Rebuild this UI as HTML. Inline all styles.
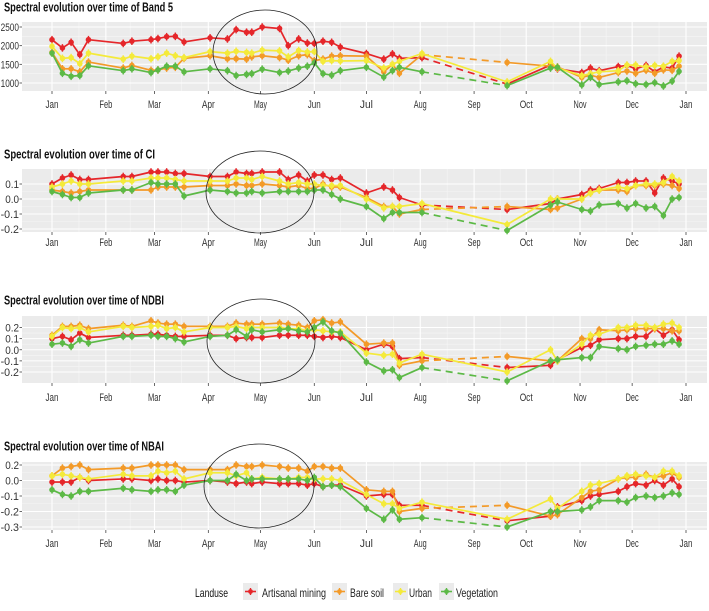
<!DOCTYPE html>
<html><head><meta charset="utf-8"><style>
body{margin:0;background:#fff;}
svg text{font-family:"Liberation Sans",sans-serif;}
</style></head><body>
<svg id="chart" width="709" height="606" viewBox="0 0 709 606" xmlns="http://www.w3.org/2000/svg"></svg>
<script>
const days = [0,6,11,16,21,41,46,57,61,66,71,76,91,101,106,112,115,121,131,136,142,147,151,156,161,166,181,191,196,200,213,262,287,291,305,310,315,326,331,336,342,347,352,357,361];
const monthLabels = ["Jan","Feb","Mar","Apr","May","Jun","Jul","Aug","Sep","Oct","Nov","Dec","Jan"];
const monthDays = [0,31,59,90,120,151,181,212,243,273,304,334,365];
const seriesNames = ["Artisanal mining","Bare soil","Urban","Vegetation"];
const seriesColors = ["#e5262a","#f39a28","#f4ea3a","#5cb946"];

const band5Red = [2160,1940,2090,1760,2160,2060,2120,2160,2190,2240,2250,2100,2210,2180,2430,2360,2360,2500,2460,2000,2180,2070,2060,2120,2090,1960,1790,1640,1780,1660,1680,970,1480,1380,1280,1400,1330,1440,1470,1380,1470,1300,1430,1400,1720];
const band5Orange = [1820,1380,1380,1300,1560,1400,1470,1340,1350,1400,1420,1660,1730,1650,1650,1640,1700,1730,1680,1610,1730,1760,1600,1640,1720,1730,1720,1300,1500,1260,1760,1550,1450,1430,1150,1210,1150,1280,1320,1260,1340,1260,1350,1340,1450];
const band5Yellow = [1980,1660,1680,1520,1800,1640,1720,1650,1700,1800,1730,1680,1840,1800,1850,1820,1800,1880,1860,1700,1870,1830,1840,1580,1600,1590,1600,1400,1500,1580,1790,1030,1580,1400,1200,1250,1300,1330,1480,1480,1430,1470,1450,1580,1600];
const band5Green = [1800,1260,1180,1200,1460,1330,1380,1280,1350,1450,1450,1300,1380,1330,1200,1230,1250,1370,1280,1320,1400,1450,1540,1250,1210,1330,1420,1160,1330,1420,1300,930,1400,1420,950,1150,960,1030,1060,980,960,1010,920,1050,1310];

const ciRed = [0.10,0.14,0.16,0.13,0.13,0.15,0.15,0.18,0.18,0.18,0.17,0.17,0.15,0.15,0.18,0.17,0.17,0.18,0.18,0.13,0.16,0.12,0.16,0.16,0.13,0.14,0.04,0.08,0.06,0.01,-0.04,-0.07,-0.03,0.0,0.03,0.06,0.07,0.11,0.11,0.12,0.12,0.04,0.14,0.12,0.10];
const ciOrange = [0.06,0.05,0.04,0.05,0.06,0.06,0.06,0.06,0.08,0.08,0.08,0.08,0.09,0.09,0.10,0.09,0.09,0.10,0.09,0.08,0.09,0.07,0.07,0.10,0.08,0.08,0.01,-0.05,-0.05,-0.10,-0.07,-0.05,-0.07,-0.06,0.0,0.04,0.06,0.06,0.05,0.09,0.09,0.09,0.10,0.09,0.07];
const ciYellow = [0.08,0.10,0.12,0.10,0.10,0.12,0.12,0.14,0.14,0.14,0.13,0.12,0.12,0.12,0.14,0.14,0.13,0.15,0.12,0.10,0.11,0.10,0.10,0.09,0.09,0.09,0.0,-0.06,-0.05,-0.05,-0.03,-0.17,0.0,0.0,0.0,0.04,0.06,0.08,0.07,0.09,0.10,0.10,0.11,0.15,0.12];
const ciGreen = [0.05,0.03,0.01,0.01,0.04,0.06,0.06,0.11,0.10,0.10,0.10,0.02,0.06,0.05,0.04,0.04,0.05,0.04,0.05,0.05,0.05,0.05,0.06,0.06,0.03,0.0,-0.05,-0.13,-0.09,-0.09,-0.09,-0.21,-0.04,-0.02,-0.07,-0.08,-0.04,-0.03,-0.06,-0.03,-0.06,-0.05,-0.11,0.0,0.01];

const ndbiRed = [0.10,0.12,0.09,0.15,0.11,0.13,0.13,0.14,0.14,0.13,0.12,0.12,0.13,0.13,0.10,0.11,0.11,0.11,0.13,0.13,0.13,0.13,0.12,0.11,0.12,0.11,0.0,0.05,0.03,-0.08,-0.07,-0.16,-0.14,-0.09,0.02,0.04,0.09,0.10,0.10,0.12,0.12,0.19,0.13,0.18,0.09];
const ndbiOrange = [0.13,0.21,0.21,0.22,0.19,0.22,0.21,0.26,0.24,0.23,0.23,0.21,0.21,0.21,0.24,0.23,0.23,0.23,0.24,0.23,0.22,0.20,0.26,0.27,0.24,0.25,0.05,0.06,0.06,-0.14,-0.10,-0.06,-0.10,-0.10,0.10,0.10,0.18,0.17,0.18,0.19,0.19,0.19,0.19,0.17,0.17];
const ndbiYellow = [0.12,0.20,0.19,0.20,0.16,0.21,0.20,0.21,0.22,0.19,0.20,0.16,0.20,0.20,0.21,0.19,0.20,0.20,0.20,0.19,0.19,0.17,0.18,0.17,0.16,0.16,-0.03,-0.05,-0.04,-0.12,-0.04,-0.20,0.0,-0.10,0.05,0.13,0.14,0.20,0.20,0.22,0.22,0.20,0.23,0.24,0.20];
const ndbiGreen = [0.05,0.06,0.03,0.09,0.06,0.12,0.12,0.13,0.12,0.12,0.10,0.07,0.12,0.13,0.18,0.12,0.18,0.16,0.18,0.19,0.17,0.16,0.20,0.25,0.17,0.15,-0.11,-0.19,-0.18,-0.25,-0.16,-0.28,-0.10,-0.09,-0.07,-0.07,0.03,0.01,0.0,0.03,0.04,0.05,0.05,0.08,0.05];

const nbaiRed = [-0.01,-0.01,-0.01,0.02,0.0,0.01,0.01,0.0,0.01,0.0,0.0,-0.01,0.0,-0.01,-0.02,-0.01,-0.02,-0.01,-0.02,-0.02,-0.02,-0.03,-0.02,-0.04,-0.03,-0.03,-0.10,-0.09,-0.09,-0.16,-0.16,-0.26,-0.23,-0.17,-0.13,-0.10,-0.09,-0.07,-0.04,-0.02,-0.03,0.0,-0.03,0.01,-0.04];
const nbaiOrange = [0.03,0.08,0.09,0.10,0.07,0.08,0.08,0.10,0.10,0.10,0.10,0.07,0.07,0.07,0.10,0.09,0.09,0.10,0.09,0.08,0.08,0.06,0.09,0.09,0.08,0.08,-0.06,-0.07,-0.07,-0.20,-0.18,-0.16,-0.23,-0.22,-0.11,-0.07,-0.06,0.01,0.02,0.02,0.04,0.02,0.03,0.05,0.02];
const nbaiYellow = [0.03,0.04,0.03,0.02,0.01,0.04,0.03,0.03,0.06,0.05,0.06,0.01,0.05,0.05,0.03,0.05,0.01,0.02,0.01,0.01,0.02,0.02,0.01,0.01,0.01,0.0,-0.09,-0.15,-0.15,-0.18,-0.14,-0.25,-0.12,-0.18,-0.07,-0.03,-0.02,0.01,0.03,0.04,0.03,0.02,0.06,0.06,0.03];
const nbaiGreen = [-0.06,-0.09,-0.10,-0.07,-0.07,-0.05,-0.06,-0.07,-0.06,-0.06,-0.07,-0.03,0.0,0.0,0.04,0.0,0.01,0.01,0.01,0.01,0.01,0.0,0.02,-0.04,-0.03,-0.04,-0.18,-0.25,-0.19,-0.25,-0.24,-0.30,-0.20,-0.20,-0.19,-0.17,-0.13,-0.13,-0.14,-0.11,-0.10,-0.11,-0.10,-0.08,-0.09];

const band5Ticks = [2500,2000,1500,1000];
const band5TickLabels = ["2500","2000","1500","1000"];
const ciTicks = [0.1,0.0,-0.1,-0.2];
const ciTickLabels = ["0.1","0.0","-0.1","-0.2"];
const ndbiTicks = [0.2,0.1,0.0,-0.1,-0.2];
const ndbiTickLabels = ["0.2","0.1","0.0","-0.1","-0.2"];
const nbaiTicks = [0.1,0.0,-0.1,-0.2,-0.3];
const nbaiTickLabels = ["0.2","0.0","-0.1","-0.2","-0.3"];

const NS = "http://www.w3.org/2000/svg";
const svg = document.getElementById("chart");
function mk(tag, attrs, parent){const e=document.createElementNS(NS,tag);for(const k in attrs)e.setAttribute(k,attrs[k]);(parent||svg).appendChild(e);return e;}
const X0=22, X1=707;
function xScale(d){return 52 + d*(686-52)/365;}

const panels = [
 {name:"band5", title:"Spectral evolution over time of Band 5", titleY:11.5, top:22, bottom:91, v0:2500, p0:27, v1:1000, p1:83, labY:108, ticks:band5Ticks, labels:band5TickLabels, data:[band5Red,band5Orange,band5Yellow,band5Green], ell:[265,52,52,42]},
 {name:"ci", title:"Spectral evolution over time of CI", titleY:158.5, top:169, bottom:232, v0:0.1, p0:184, v1:-0.2, p1:229, labY:246, ticks:ciTicks, labels:ciTickLabels, data:[ciRed,ciOrange,ciYellow,ciGreen], ell:[260,192,54,41]},
 {name:"ndbi", title:"Spectral evolution over time of NDBI", titleY:304.5, top:316, bottom:383, v0:0.2, p0:327.5, v1:-0.2, p1:372, labY:401, ticks:ndbiTicks, labels:ndbiTickLabels, data:[ndbiRed,ndbiOrange,ndbiYellow,ndbiGreen], ell:[261,341,54,42]},
 {name:"nbai", title:"Spectral evolution over time of NBAI", titleY:450.5, top:462, bottom:530, v0:0.1, p0:465, v1:-0.3, p1:527, labY:547, ticks:nbaiTicks, labels:nbaiTickLabels, data:[nbaiRed,nbaiOrange,nbaiYellow,nbaiGreen], ell:[259,486,55,42]}
];

panels.forEach(p=>{
  const g = mk("g",{});
  
  
  const y = v => p.p0 + (v-p.v0)*(p.p1-p.p0)/(p.v1-p.v0);
  const t = mk("text",{x:4,y:p.titleY,"font-size":"12.5","font-weight":"bold",fill:"#111",textLength:(p.title.length*4.45).toFixed(0),lengthAdjust:"spacingAndGlyphs"},g);
  t.textContent = p.title;
  
  
  const bg = mk("rect",{x:X0,y:p.top,width:X1-X0,height:p.bottom-p.top,fill:"#ebebeb"},g);
  
  
  for(let i=0;i<p.ticks.length-1;i++){
    const ym=(y(p.ticks[i])+y(p.ticks[i+1]))/2;
    mk("line",{x1:X0,x2:X1,y1:ym,y2:ym,stroke:"#f6f6f6","stroke-width":0.6},g);
  }
  for(let i=0;i<monthDays.length-1;i++){
    const xm=(xScale(monthDays[i])+xScale(monthDays[i+1]))/2;
    mk("line",{x1:xm,x2:xm,y1:p.top,y2:p.bottom,stroke:"#f6f6f6","stroke-width":0.6},g);
  }
  p.ticks.forEach((v,i)=>{
    mk("line",{x1:X0,x2:X1,y1:y(v),y2:y(v),stroke:"#fff","stroke-width":1.1},g);
    mk("line",{x1:X0-2.5,x2:X0,y1:y(v),y2:y(v),stroke:"#444","stroke-width":0.8},g);
    const lbl=p.labels[i];
    const tl=mk("text",{x:X0-3,y:y(v)+4,"font-size":"11","text-anchor":"end",fill:"#333",textLength:(lbl.length*4.6).toFixed(1),lengthAdjust:"spacingAndGlyphs"},g);
    tl.textContent=lbl;
    
    
  });
  monthDays.forEach((d,i)=>{
    const xm=xScale(d);
    mk("line",{x1:xm,x2:xm,y1:p.top,y2:p.bottom,stroke:"#fff","stroke-width":1.1},g);
    mk("line",{x1:xm,x2:xm,y1:p.bottom,y2:p.bottom+3,stroke:"#444","stroke-width":0.8},g);
    const ml=mk("text",{x:xm,y:p.labY,"font-size":"11","text-anchor":"middle",fill:"#333",textLength:"13",lengthAdjust:"spacingAndGlyphs"},g);
    ml.textContent=monthLabels[i];
    
    
  });
  p.data.forEach((vals,si)=>{
    const col=seriesColors[si];
    const sg=mk("g",{},g);
    
    
    for(let i=0;i<vals.length-1;i++){
      const dashed = (i===30 && si!==2);
      const ln=mk("line",{x1:xScale(days[i]),y1:y(vals[i]),x2:xScale(days[i+1]),y2:y(vals[i+1]),stroke:col,"stroke-width":1.7},sg);
      if(dashed) ln.setAttribute("stroke-dasharray","7,5");
    }
    vals.forEach((v,i)=>{
      const cx=xScale(days[i]), cy=y(v);
      mk("line",{x1:cx,x2:cx,y1:cy-3.8,y2:cy+3.8,stroke:col,"stroke-width":1.4},sg);
      const c=mk("circle",{cx:cx,cy:cy,r:2.8,fill:col},sg);
      
      
    });
  });
  const e=mk("ellipse",{cx:p.ell[0],cy:p.ell[1],rx:p.ell[2],ry:p.ell[3],fill:"none",stroke:"#222","stroke-width":0.8},g);
  
  
});

// legend
const lg = mk("g",{});


const lt = mk("text",{x:195,y:597,"font-size":"12",fill:"#111",textLength:"33",lengthAdjust:"spacingAndGlyphs"},lg);
lt.textContent="Landuse";


const keyX=[243,332,393,439];
const textX=[262,350,409,456];
const textW=[64,34,23,42];
seriesNames.forEach((n,i)=>{
  const eg=mk("g",{},lg);
  
  
  mk("rect",{x:keyX[i],y:583,width:15,height:17,fill:"#ebebeb"},eg);
  mk("line",{x1:keyX[i]+2,x2:keyX[i]+13,y1:591.5,y2:591.5,stroke:seriesColors[i],"stroke-width":1.6},eg);
  mk("line",{x1:keyX[i]+7.5,x2:keyX[i]+7.5,y1:588,y2:595,stroke:seriesColors[i],"stroke-width":1.4},eg);
  mk("circle",{cx:keyX[i]+7.5,cy:591.5,r:2.4,fill:seriesColors[i]},eg);
  const tx=mk("text",{x:textX[i],y:597,"font-size":"12",fill:"#222",textLength:textW[i],lengthAdjust:"spacingAndGlyphs"},eg);
  tx.textContent=n;
});
</script>
</body></html>
